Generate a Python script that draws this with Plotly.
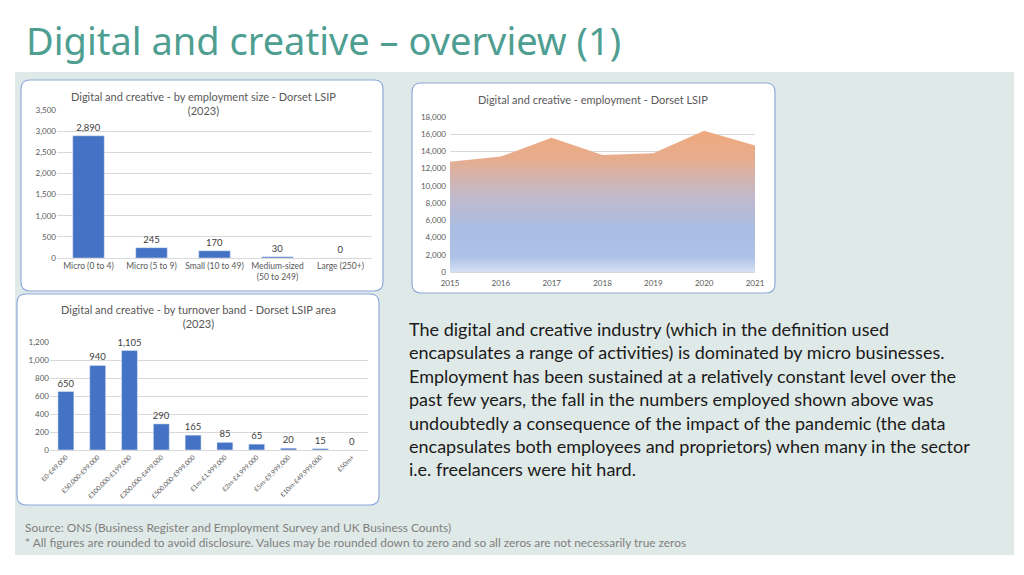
import plotly.graph_objects as go

W, H = 1024, 575

# ---------------- data ----------------
size_bands = ["Micro (0 to 4)", "Micro (5 to 9)", "Small (10 to 49)",
              "Medium-sized<br>(50 to 249)", "Large (250+)"]
size_counts = [2890, 245, 170, 30, 0]

turnover_bands = ["£0-£49,000", "£50,000-£99,000", "£100,000-£199,000",
                  "£200,000-£499,000", "£500,000-£999,000", "£1m-£1,999,000",
                  "£2m-£4,999,000", "£5m-£9,999,000", "£10m-£49,999,000", "£50m+"]
turnover_counts = [650, 940, 1105, 290, 165, 85, 65, 20, 15, 0]

years = [2015, 2016, 2017, 2018, 2019, 2020, 2021]
employment = [12800, 13400, 15600, 13600, 13800, 16400, 14700]

size_ticks = [0, 500, 1000, 1500, 2000, 2500, 3000, 3500]
turnover_ticks = [0, 200, 400, 600, 800, 1000, 1200]
emp_ticks = [0, 2000, 4000, 6000, 8000, 10000, 12000, 14000, 16000, 18000]

# ---------------- helpers ----------------
def X(v):
    return v / W

def Y(v):
    return 1 - v / H

def rrect(x0, y0, x1, y1, r):
    return (f"M {X(x0+r)},{Y(y0)} L {X(x1-r)},{Y(y0)} Q {X(x1)},{Y(y0)} {X(x1)},{Y(y0+r)} "
            f"L {X(x1)},{Y(y1-r)} Q {X(x1)},{Y(y1)} {X(x1-r)},{Y(y1)} "
            f"L {X(x0+r)},{Y(y1)} Q {X(x0)},{Y(y1)} {X(x0)},{Y(y1-r)} "
            f"L {X(x0)},{Y(y0+r)} Q {X(x0)},{Y(y0)} {X(x0+r)},{Y(y0)} Z")

BAR = "#4472c4"
GRID = "#d9d9d9"
TICK = "#595959"
FONT = "Lato, 'Open Sans', sans-serif"

fig = go.Figure()

fig.add_trace(go.Bar(
    x=size_bands, y=size_counts, marker_color=BAR, width=0.5,
    texttemplate="%{y:,}", textposition="outside", cliponaxis=False, constraintext="none",
    textfont=dict(size=9.5, color="#404040", family=FONT),
    xaxis="x", yaxis="y", showlegend=False))

fig.add_trace(go.Bar(
    x=turnover_bands, y=turnover_counts, marker_color=BAR, width=0.5,
    texttemplate="%{y:,}", textposition="outside", cliponaxis=False, constraintext="none",
    textfont=dict(size=9.5, color="#404040", family=FONT),
    xaxis="x2", yaxis="y2", showlegend=False))

fig.add_trace(go.Scatter(
    x=years, y=employment, mode="lines", fill="tozeroy",
    line=dict(width=0, color="rgba(0,0,0,0)"),
    fillgradient=dict(type="vertical", start=0, stop=16400,
                      colorscale=[[0, "#d6e0f3"], [0.1, "#afc3e8"], [0.3, "#a9bde4"],
                                  [0.55, "#c3b9c9"], [0.8, "#e6ad8e"], [1, "#efa97d"]]),
    xaxis="x3", yaxis="y3", showlegend=False))

axis_common = dict(tickfont=dict(size=8, color=TICK, family=FONT), fixedrange=True,
                   automargin=False)

fig.update_layout(
    width=W, height=H, autosize=False,
    margin=dict(l=0, r=0, t=0, b=0, autoexpand=False),
    paper_bgcolor="white", plot_bgcolor="rgba(0,0,0,0)",
    font=dict(family=FONT),
    bargap=0.5,
    xaxis=dict(domain=[X(57), X(372)], anchor="y", showgrid=False,
               showline=True, linecolor=GRID, ticks="",
               **{**axis_common, "tickfont": dict(size=8.5, color=TICK, family=FONT)}),
    yaxis=dict(domain=[Y(258), Y(110)], anchor="x", range=[0, 3500],
               tickvals=size_ticks, tickformat=",", showgrid=True, gridcolor=GRID,
               zeroline=False, showline=False, **axis_common),
    xaxis2=dict(domain=[X(50), X(368)], anchor="y2", showgrid=False,
                showline=True, linecolor=GRID, ticks="", tickangle=-45,
                **{**axis_common, "tickfont": dict(size=6.5, color=TICK, family=FONT)}),
    yaxis2=dict(domain=[Y(450), Y(342)], anchor="x2", range=[0, 1200],
                tickvals=turnover_ticks, tickformat=",", showgrid=True, gridcolor=GRID,
                zeroline=False, showline=False, **axis_common),
    xaxis3=dict(domain=[X(450), X(755)], anchor="y3", range=[2015, 2021],
                tickvals=years, showgrid=False, showline=True, linecolor=GRID,
                ticks="", ticklabelstandoff=3, **axis_common),
    yaxis3=dict(domain=[Y(272), Y(117)], anchor="x3", range=[0, 18000],
                tickvals=emp_ticks, tickformat=",", showgrid=True, gridcolor=GRID,
                zeroline=False, showline=False, ticklabelstandoff=3, **axis_common),
)

shapes = [
    dict(type="rect", xref="paper", yref="paper", x0=X(15), x1=X(1014), y0=Y(555), y1=Y(72),
         fillcolor="#dfe9e7", line=dict(width=0), layer="below"),
]
for (x0, y0, x1, y1) in [(21, 80, 383, 291), (17, 294, 379, 505), (412, 83, 775, 293)]:
    shapes.append(dict(type="path", xref="paper", yref="paper", path=rrect(x0, y0, x1, y1, 9),
                       fillcolor="white", line=dict(color="#8faadc", width=1.2), layer="below"))
fig.update_layout(shapes=shapes)

P = dict(xref="paper", yref="paper", showarrow=False)
ann = []
ann.append(dict(text="Digital and creative – overview (1)", x=X(24), y=Y(40), xanchor="left",
                yanchor="middle", **P,
                font=dict(family="'Noto Sans', 'Open Sans', sans-serif", size=38, color="#4e9e91")))
ann.append(dict(text="Digital and creative - by employment size - Dorset LSIP<br>(2023)",
                x=X(203), y=Y(88), xanchor="center", yanchor="top", **P,
                font=dict(size=11, color=TICK, family=FONT), align="center"))
ann.append(dict(text="Digital and creative - by turnover band - Dorset LSIP area<br>(2023)",
                x=X(198), y=Y(301), xanchor="center", yanchor="top", **P,
                font=dict(size=11, color=TICK, family=FONT), align="center"))
ann.append(dict(text="Digital and creative - employment - Dorset LSIP",
                x=X(593), y=Y(99), xanchor="center", yanchor="middle", **P,
                font=dict(size=11, color=TICK, family=FONT)))
body = ("The digital and creative industry (which in the definition used<br>"
        "encapsulates a range of activities) is dominated by micro businesses.<br>"
        "Employment has been sustained at a relatively constant level over the<br>"
        "past few years, the fall in the numbers employed shown above was<br>"
        "undoubtedly a consequence of the impact of the pandemic (the data<br>"
        "encapsulates both employees and proprietors) when many in the sector<br>"
        "i.e. freelancers were hit hard.")
ann.append(dict(text=body, x=X(407), y=Y(316), xanchor="left", yanchor="top", **P,
                align="left", font=dict(size=18, color="#1a1a1a", family=FONT)))
ann.append(dict(text="Source: ONS (Business Register and Employment Survey and UK Business Counts)<br>"
                     "* All figures are rounded to avoid disclosure. Values may be rounded down to zero and so all zeros are not necessarily true zeros",
                x=X(23), y=Y(518), xanchor="left", yanchor="top", **P, align="left",
                font=dict(size=11.9, color="#7f7f7f", family=FONT)))
fig.update_layout(annotations=ann)

fig.write_html("out.html", config={"displayModeBar": False},
               post_script="document.body.style.margin='0';document.body.style.overflow='hidden';")
